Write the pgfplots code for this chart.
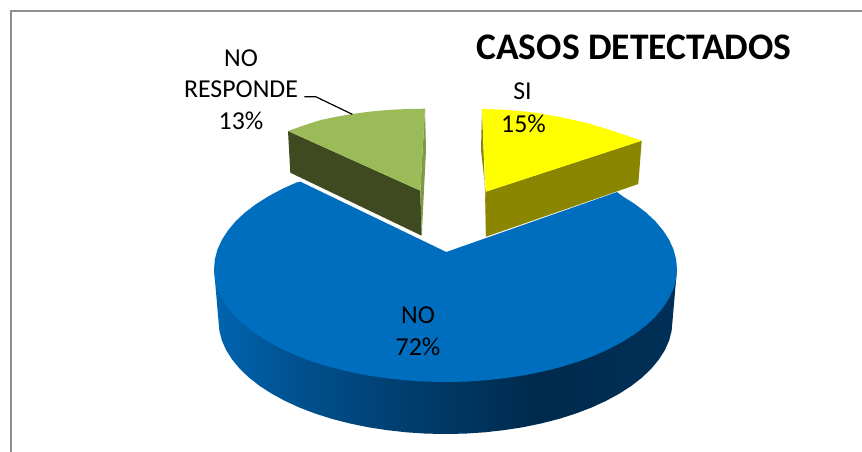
\documentclass[border=0pt]{standalone}
\usepackage{fontspec}
\setmainfont{Carlito}
\usepackage{pgfplots}
\pgfplotsset{compat=1.18}
\definecolor{azulTop}{RGB}{0,110,190}
\definecolor{amarillo}{RGB}{255,255,0}
\definecolor{oliva}{RGB}{139,134,0}
\definecolor{verde}{RGB}{155,187,89}
\definecolor{verdeOsc}{RGB}{63,74,33}
\definecolor{verdeMed}{RGB}{125,155,70}
\definecolor{marco}{RGB}{142,142,142}
\definecolor{bl0}{RGB}{0,100,175}
\definecolor{bl1}{RGB}{0,81,143}
\definecolor{bl2}{RGB}{0,63,112}
\definecolor{bl3}{RGB}{0,42,77}
\definecolor{bl4}{RGB}{0,48,88}
% 25bp = left end of the rim, 75bp = right end
\pgfdeclarehorizontalshading{aroazul}{100bp}{
  color(0bp)=(bl0); color(25bp)=(bl0); color(34bp)=(bl1); color(45bp)=(bl2);
  color(60bp)=(bl3); color(75bp)=(bl4); color(100bp)=(bl4)}
\newcommand{\rotulo}{\fontsize{25.8}{28}\selectfont}
\begin{document}
\begin{tikzpicture}
\begin{axis}[
  width=862pt, height=452pt, scale only axis,
  xmin=0, xmax=862, ymin=0, ymax=452, y dir=reverse,
  hide axis, clip=true,
  every axis plot/.append style={line width=0pt, draw=none}
]
% fondo y marco
\addplot[fill=white] coordinates {(0,0) (862,0) (862,452) (0,452)} --cycle;
\addplot[draw=marco, line width=1.6pt] coordinates {(11,452) (11,11) (862,11)};

% NO: canto
\addplot[shading=aroazul] coordinates {
 (214,269) (218.5,321) (219.4,330.9) (221.9,340.6) (226.2,350.2) (232.2,359.6) (239.8,368.8)
 (248.9,377.5) (259.5,385.8) (271.6,393.6) (285,400.9) (299.6,407.6) (315.3,413.6) (332,418.9)
 (349.6,423.4) (367.9,427.2) (386.7,430.1) (406.1,432.3) (425.7,433.6) (445.5,434) (465.3,433.6)
 (484.9,432.3) (504.3,430.1) (523.1,427.2) (541.4,423.4) (559,418.9) (575.7,413.6) (591.4,407.6)
 (606,400.9) (619.4,393.6) (631.5,385.8) (642.1,377.5) (651.2,368.8) (658.8,359.6) (664.8,350.2)
 (669.1,340.6) (671.6,330.9) (672.5,321) (677,269)} --cycle;
% NO: cara superior
\addplot[fill=azulTop] coordinates {
 (446.3,252) (617,192) (622.8,196.4) (635.1,204.2) (646,212.5) (655.3,221.2) (663,230.4) (669.1,239.8)
 (673.5,249.4) (676.1,259.1) (677,269) (676.1,278.9) (673.5,288.6) (669.1,298.2) (663,307.6)
 (655.3,316.8) (646,325.5) (635.1,333.8) (622.8,341.6) (609.2,348.9) (594.3,355.6) (578.3,361.6)
 (561.3,366.9) (543.3,371.4) (524.7,375.2) (505.4,378.1) (485.7,380.3) (465.7,381.6) (445.5,382)
 (425.3,381.6) (405.3,380.3) (385.6,378.1) (366.3,375.2) (347.7,371.4) (329.7,366.9) (312.7,361.6)
 (296.7,355.6) (281.8,348.9) (268.2,341.6) (255.9,333.8) (245,325.5) (235.7,316.8) (228,307.6)
 (221.9,298.2) (217.5,288.6) (214.9,278.9) (214,269) (214.9,259.1) (217.5,249.4) (221.9,239.8)
 (228,230.4) (235.7,221.2) (245,212.5) (255.9,204.2) (268.2,196.4) (281.8,189.1) (296.7,182.4)
 (300.5,181.7)} --cycle;

% SI
\addplot[fill=oliva] coordinates {(485.7,191.7) (641.7,140.7) (638.3,184) (486,236.7)} --cycle;
\addplot[fill=oliva] coordinates {(482,109) (481,150) (485.7,191.7) (486,236.7) (485,192)} --cycle;
\addplot[fill=amarillo] coordinates {
 (482,109) (500,109.5) (520,111) (537,113) (560,117) (587,123) (610,130) (628,136) (641.7,140.7)
 (485.7,191.7)} --cycle;

% NO RESPONDE
\addplot[fill=verdeOsc] coordinates {(288,131) (420.3,190.7) (421.7,235.7) (290.3,172.7)} --cycle;
\addplot[fill=verdeMed] coordinates {(425,108.7) (426,150) (421.7,235.7) (420.3,190.7)} --cycle;
\addplot[fill=verde] coordinates {
 (288,131) (305,125) (320,120.2) (336,116.8) (352,114) (370,111.6) (390,109.8) (408,109) (425,108.7)
 (420.3,190.7)} --cycle;

% linea guia
\addplot[draw=black, line width=1.2pt] coordinates {(304.3,96.7) (315.7,96.7) (352.3,114.3)};

\node[font=\fontsize{37.5}{40}\selectfont\bfseries, anchor=center] at (axis cs:634,47) {CASOS DETECTADOS};
\node[font=\rotulo] at (axis cs:241,58) {NO};
\node[font=\rotulo] at (axis cs:241,89) {RESPONDE};
\node[font=\rotulo] at (axis cs:241,121) {13\%};
\node[font=\rotulo] at (axis cs:522.5,91) {SI};
\node[font=\rotulo] at (axis cs:523.5,123.5) {15\%};
\node[font=\rotulo] at (axis cs:418,315) {NO};
\node[font=\rotulo] at (axis cs:418,347) {72\%};
\end{axis}
\end{tikzpicture}
\end{document}
